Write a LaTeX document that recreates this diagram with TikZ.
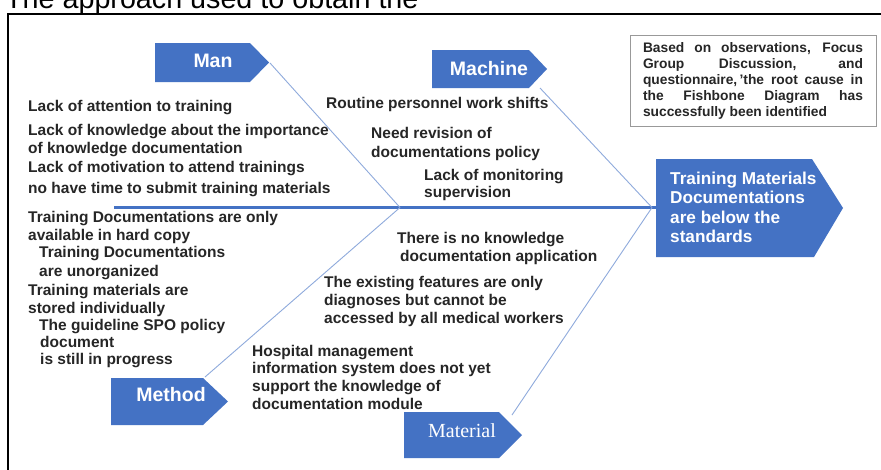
\documentclass[tikz,border=0pt]{standalone}
\usepackage{fontspec}
\setmainfont{Liberation Sans}
\newfontfamily\matserif{Liberation Serif}
\usepackage{xcolor}
\definecolor{fishblue}{HTML}{4472C4}
\definecolor{bonegray}{HTML}{8FAADC}
\definecolor{causetext}{HTML}{262626}

\tikzset{
  cause/.style={anchor=base west,inner sep=0pt,text=causetext,
    font=\bfseries\fontsize{15.5}{18}\selectfont},
  catlabel/.style={text=white,inner sep=0pt,
    font=\bfseries\fontsize{19.5}{22}\selectfont},
  effectline/.style={anchor=base west,inner sep=0pt,text=white,
    font=\bfseries\fontsize{17.2}{19.5}\selectfont},
  bone/.style={bonegray,line width=0.9pt},
}

\begin{document}
\begin{tikzpicture}[x=1pt,y=-1pt]
  \useasboundingbox (0,0) rectangle (881,469);
  \clip (0,0) rectangle (881,469);
  \fill[white] (0,0) rectangle (881,469);

  % heading of the page, cut at the top
  \node[anchor=base west,inner sep=0pt,font=\fontsize{28.7}{30}\selectfont]
    (heading) at (5,8.5) {The approach used to obtain the};

  % frame
  \draw[line width=1.8pt] (8,480) -- (8,14) -- (890,14);

  % head of the fish
  \fill[fishblue] (656,159) -- (812,159) -- (843,208) -- (814,257) -- (656,257) -- cycle;
  \node[effectline] (effect1) at (670,184) {Training Materials};
  \node[effectline] (effect2) at (670,203.5) {Documentations};
  \node[effectline] (effect3) at (670,223) {are below the};
  \node[effectline] (effect4) at (670,242.5) {standards};

  % spine
  \coordinate (tail) at (114,207.5);
  \coordinate (headjoint) at (656,207.5);
  \coordinate (midjoint) at (400,207.5);
  \coordinate (endjoint) at (652,207.5);
  \draw[fishblue,line width=2.2pt] (tail) -- (headjoint);

  % category boxes
  \fill[fishblue] (155,43) -- (250,43) -- (269,62.5) -- (250,82) -- (155,82) -- cycle;
  \fill[fishblue] (432,50) -- (529,50) -- (547,69) -- (529,88) -- (432,88) -- cycle;
  \fill[fishblue] (111,378) -- (203,378) -- (228,401.5) -- (203,425) -- (111,425) -- cycle;
  \fill[fishblue] (404,412) -- (499,412) -- (522,435) -- (499,458) -- (404,458) -- cycle;
  \node[catlabel] (man) at (213,61) {Man};
  \node[catlabel] (machine) at (489,69) {Machine};
  \node[catlabel] (method) at (171,395) {Method};
  \node[catlabel,font=\matserif\fontsize{20}{22}\selectfont] (material) at (462,431) {Material};

  % bones
  \coordinate (man-end) at (270,63);
  \coordinate (machine-end) at (540,88);
  \coordinate (method-end) at (205,377);
  \coordinate (material-end) at (512,415);
  \draw[bone] (man-end) -- (midjoint);
  \draw[bone] (method-end) -- (midjoint);
  \draw[bone] (machine-end) -- (endjoint);
  \draw[bone] (material-end) -- (endjoint);

  % causes
  \foreach \x/\y/\txt [count=\i] in {
      28/111/Lack of attention to training,
      28/135/Lack of knowledge about the importance,
      28/153/of knowledge documentation,
      28/172/Lack of motivation to attend trainings,
      28/193/no have time to submit training materials}
    \node[cause] (man\i) at (\x,\y) {\txt};
  \foreach \x/\y/\txt [count=\i] in {
      326/108/Routine personnel work shifts,
      371/138/Need revision of,
      371/157/documentations policy,
      424/180/Lack of monitoring,
      424/197/supervision}
    \node[cause] (machine\i) at (\x,\y) {\txt};
  \foreach \x/\y/\txt [count=\i] in {
      28/222/Training Documentations are only,
      28/240/available in hard copy,
      39/257/Training Documentations,
      39/276/are unorganized,
      28/295/Training materials are,
      28/313/stored individually,
      39/330/The guideline SPO policy,
      40/347/document,
      40/364/is still in progress}
    \node[cause] (method\i) at (\x,\y) {\txt};
  \foreach \x/\y/\txt [count=\i] in {
      397/243/There is no knowledge,
      400/261/documentation application,
      324/287/The existing features are only,
      324/305/diagnoses but cannot be,
      324/323/accessed by all medical workers,
      252/356/Hospital management,
      252/373/information system does not yet,
      252/391/support the knowledge of,
      252/409/documentation module}
    \node[cause] (material\i) at (\x,\y) {\txt};

  % note on the results
  \node[draw=black!40,line width=0.8pt,text width=220pt,align=justify,
    inner xsep=13pt,inner ysep=0pt,minimum height=91pt,text=causetext,
    font=\bfseries\fontsize{13.8}{16}\selectfont] (summary) at (753,80.5)
    {Based on observations, Focus\linebreak
     Group Discussion, and\linebreak
     questionnaire,\,'the root cause in\linebreak
     the Fishbone Diagram has\linebreak
     successfully been identified};
\end{tikzpicture}
\end{document}
